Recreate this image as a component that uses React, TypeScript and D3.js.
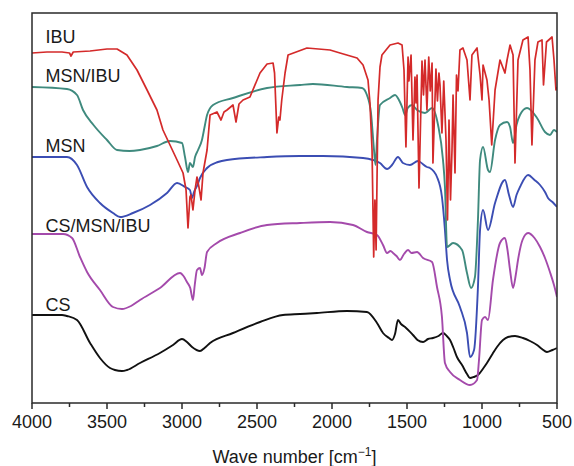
import React from "react";
import * as d3 from "d3";

// FTIR spectra: [wavenumber (cm^-1), transmittance (arbitrary offset units)]
const seriesNames = ["IBU", "MSN/IBU", "MSN", "CS/MSN/IBU", "CS"];
const seriesColors = ["#d42a2a", "#3f8a7e", "#3b4db3", "#a44aab", "#111111"];

const ibu: [number, number][] = [
  [4000, 350], [3900, 351], [3800, 351], [3750, 350], [3740, 347], [3725, 351], [3613, 352],
  [3500, 354], [3433, 354], [3367, 348], [3300, 333], [3233, 313], [3167, 293], [3127, 273],
  [3080, 258], [3033, 243], [2993, 230], [2973, 213], [2960, 175], [2947, 206], [2940, 208],
  [2927, 193], [2913, 213], [2900, 226], [2887, 216], [2873, 203], [2860, 230], [2833, 253],
  [2813, 288], [2767, 291], [2740, 283], [2720, 291], [2700, 293], [2660, 298], [2640, 281],
  [2620, 299], [2593, 303], [2547, 306], [2480, 330], [2433, 339], [2393, 340], [2383, 330],
  [2367, 270], [2355, 286], [2347, 283], [2335, 303], [2313, 330], [2293, 348], [2167, 355],
  [2013, 353], [1947, 350], [1833, 345], [1793, 338], [1760, 323], [1747, 300], [1733, 253],
  [1722, 146], [1714, 203], [1706, 153], [1693, 303], [1680, 336], [1667, 348], [1613, 358],
  [1560, 360], [1533, 358], [1520, 333], [1507, 256], [1493, 346], [1487, 322], [1473, 348],
  [1460, 263], [1447, 326], [1440, 300], [1433, 328], [1420, 215], [1400, 342], [1390, 308],
  [1380, 343], [1367, 293], [1355, 346], [1345, 312], [1333, 340], [1327, 240], [1307, 334],
  [1297, 302], [1287, 330], [1280, 318], [1267, 270], [1255, 322], [1240, 263], [1230, 183],
  [1220, 283], [1210, 203], [1200, 253], [1193, 308], [1180, 230], [1170, 328], [1160, 312],
  [1147, 353], [1127, 355], [1100, 343], [1080, 303], [1067, 348], [1033, 355], [1013, 328],
  [1000, 303], [993, 338], [967, 323], [953, 303], [935, 258], [913, 313], [880, 343],
  [847, 330], [833, 343], [813, 358], [793, 348], [780, 240], [760, 343], [727, 363],
  [693, 366], [680, 333], [667, 258], [647, 343], [627, 361], [600, 363], [590, 318],
  [570, 361], [533, 366], [520, 343], [507, 313], [500, 316],
];

const msnIbu: [number, number][] = [
  [4000, 316], [3767, 314], [3700, 308], [3660, 293], [3590, 278], [3500, 263], [3433, 253],
  [3350, 252], [3280, 253], [3167, 257], [3080, 262], [3000, 260], [2980, 246], [2960, 231],
  [2947, 240], [2927, 236], [2913, 246], [2893, 253], [2867, 263], [2847, 278], [2833, 288],
  [2793, 298], [2660, 305], [2433, 315], [2213, 318], [2127, 319], [1900, 316], [1800, 315],
  [1767, 308], [1740, 290], [1720, 253], [1710, 238], [1700, 263], [1680, 298], [1613, 305],
  [1580, 308], [1547, 301], [1530, 295], [1513, 288], [1495, 295], [1467, 298], [1433, 293],
  [1380, 290], [1333, 295], [1293, 278], [1260, 243], [1247, 216], [1233, 156], [1193, 160],
  [1133, 153], [1100, 130], [1073, 115], [1047, 126], [1027, 183], [1013, 243], [993, 256],
  [960, 233], [947, 231], [913, 263], [880, 278], [833, 281], [813, 276], [793, 260],
  [770, 278], [747, 288], [700, 295], [633, 285], [580, 271], [547, 268], [520, 273], [500, 271],
];

const msn: [number, number][] = [
  [4000, 246], [3767, 246], [3700, 238], [3633, 216], [3547, 200], [3460, 190], [3413, 186],
  [3327, 190], [3213, 198], [3100, 210], [3033, 220], [2980, 216], [2947, 213], [2933, 205],
  [2920, 211], [2900, 217], [2880, 225], [2833, 235], [2760, 241], [2700, 243], [2433, 246],
  [2213, 247], [2060, 247], [1793, 245], [1727, 243], [1680, 240], [1633, 234], [1600, 238],
  [1560, 246], [1527, 240], [1480, 238], [1427, 242], [1413, 241], [1367, 236], [1347, 235],
  [1300, 226], [1267, 206], [1247, 173], [1233, 143], [1213, 123], [1147, 96], [1100, 70],
  [1080, 46], [1053, 53], [1027, 116], [1013, 173], [993, 193], [960, 173], [913, 200],
  [847, 223], [820, 208], [793, 196], [770, 208], [747, 216], [693, 228], [650, 223],
  [613, 218], [580, 211], [560, 205], [530, 201], [500, 196],
];

const csMsnIbu: [number, number][] = [
  [4000, 169], [3793, 169], [3733, 165], [3680, 146], [3633, 131], [3547, 113], [3460, 96],
  [3400, 94], [3340, 97], [3280, 103], [3147, 115], [3013, 130], [2990, 127], [2967, 121],
  [2945, 115], [2927, 103], [2915, 118], [2900, 133], [2880, 135], [2867, 128], [2850, 135],
  [2833, 151], [2767, 160], [2613, 170], [2433, 178], [2213, 180], [2013, 181], [1860, 178],
  [1767, 171], [1700, 168], [1660, 158], [1633, 150], [1610, 152], [1593, 150], [1570, 147],
  [1547, 143], [1520, 149], [1493, 153], [1470, 150], [1433, 151], [1393, 145], [1333, 141],
  [1300, 116], [1267, 86], [1247, 40], [1213, 31], [1147, 23], [1080, 18], [1033, 23],
  [1020, 43], [1000, 83], [980, 86], [960, 83], [927, 123], [880, 160], [847, 165],
  [830, 153], [813, 133], [793, 115], [775, 128], [760, 143], [730, 163], [693, 170],
  [650, 165], [613, 156], [580, 145], [547, 131], [520, 118], [500, 106],
];

const cs: [number, number][] = [
  [4000, 88], [3800, 88], [3767, 87], [3700, 83], [3613, 60], [3547, 45], [3480, 35],
  [3447, 33], [3400, 32], [3367, 33], [3280, 40], [3147, 50], [3060, 58], [3000, 64],
  [2967, 61], [2933, 56], [2880, 52], [2850, 55], [2813, 60], [2660, 70], [2480, 81],
  [2327, 88], [2213, 89], [2100, 90], [1900, 92], [1767, 91], [1700, 80], [1660, 70],
  [1620, 65], [1600, 63], [1580, 69], [1560, 83], [1540, 79], [1513, 76], [1460, 68],
  [1430, 63], [1393, 61], [1360, 64], [1327, 65], [1290, 67], [1260, 70], [1235, 67],
  [1213, 63], [1190, 55], [1167, 46], [1133, 38], [1100, 29], [1080, 25], [1055, 26],
  [1027, 28], [990, 35], [967, 40], [930, 49], [900, 56], [860, 63], [827, 66],
  [780, 67], [727, 65], [680, 62], [633, 58], [600, 54], [567, 51], [530, 53], [500, 55],
];

const seriesData = [ibu, msnIbu, msn, csMsnIbu, cs];
// label anchor values (wavenumber, transmittance units) for the text labels
const labelPositions: [number, number][] = [
  [3910, 360], [3910, 321], [3910, 251], [3910, 171], [3910, 92],
];

const majorTicks = [4000, 3500, 3000, 2500, 2000, 1500, 1000, 500];
const minorTicks = [3750, 3250, 2750, 2250, 1750, 1250, 750];

const W = 574;
const H = 466;
const M = { left: 32, right: 557, top: 13, bottom: 403 };

export default function App() {
  const x = d3.scaleLinear().domain([4000, 500]).range([M.left, M.right]);
  const y = d3.scaleLinear().domain([0, 390]).range([M.bottom, M.top]);
  const font = "Arial, 'Liberation Sans', Helvetica, sans-serif";

  const makeLine = (i: number) =>
    d3
      .line<[number, number]>()
      .x((d) => x(d[0]))
      .y((d) => y(d[1]))
      .curve(i === 0 ? d3.curveLinear : d3.curveMonotoneX);

  return (
    <svg
      width={W}
      height={H}
      style={{ position: "absolute", left: 0, top: 0, background: "#fff" }}
      fontFamily={font}
    >
      <rect x={0} y={0} width={W} height={H} fill="#fff" />
      <defs>
        <clipPath id="plotClip">
          <rect x={M.left} y={M.top} width={M.right - M.left} height={M.bottom - M.top} />
        </clipPath>
      </defs>
      <g clipPath="url(#plotClip)">
        {seriesData
          .map((data, i) => (
            <path
              key={seriesNames[i]}
              d={makeLine(i)(data) || ""}
              fill="none"
              stroke={seriesColors[i]}
              strokeWidth={i === 0 ? 1.7 : 1.9}
              strokeLinejoin="round"
            />
          ))
          .reverse()}
      </g>
      {seriesNames.map((name, i) => (
        <text
          key={name}
          x={x(labelPositions[i][0])}
          y={y(labelPositions[i][1])}
          fontSize={18}
          fill="#1a1a1a"
        >
          {name}
        </text>
      ))}
      <rect
        x={M.left}
        y={M.top}
        width={M.right - M.left}
        height={M.bottom - M.top}
        fill="none"
        stroke="#2a2a2a"
        strokeWidth={1.5}
      />
      {majorTicks.map((t) => (
        <g key={t}>
          <line x1={x(t)} x2={x(t)} y1={M.bottom} y2={M.bottom + 6} stroke="#2a2a2a" strokeWidth={1.5} />
          <text x={x(t)} y={428} fontSize={18} textAnchor="middle" fill="#1a1a1a">
            {t}
          </text>
        </g>
      ))}
      {minorTicks.map((t) => (
        <line key={t} x1={x(t)} x2={x(t)} y1={M.bottom} y2={M.bottom + 4} stroke="#2a2a2a" strokeWidth={1.5} />
      ))}
      <text x={(M.left + M.right) / 2} y={463} fontSize={18} textAnchor="middle" fill="#1a1a1a">
        Wave number [cm
        <tspan fontSize={12} dy={-7}>−1</tspan>
        <tspan dy={7}>]</tspan>
      </text>
    </svg>
  );
}
